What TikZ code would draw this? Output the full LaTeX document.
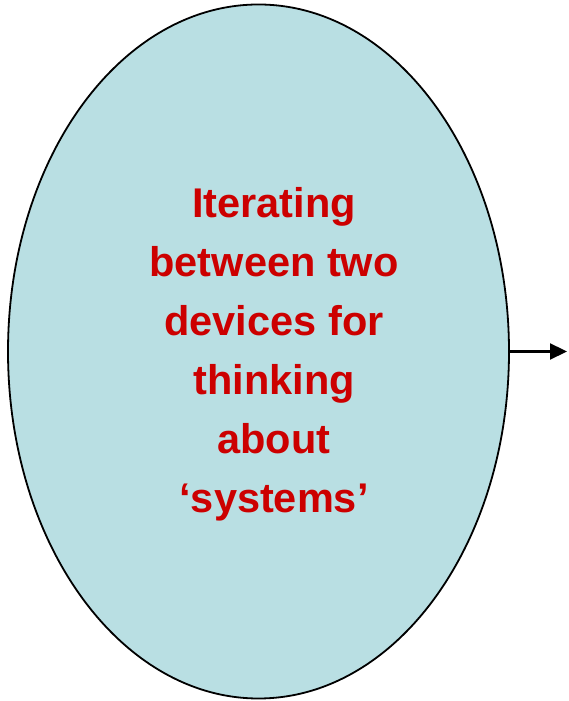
\documentclass[tikz,border=0pt]{standalone}
\usepackage{fontspec}
\setmainfont{Liberation Sans}
\usetikzlibrary{shapes.geometric,arrows.meta}
\definecolor{bubble}{HTML}{B9DFE3}
\definecolor{label}{HTML}{CC0000}
\tikzset{
  bubble/.style={ellipse, draw=black, line width=1.8pt, fill=bubble,
    minimum width=501pt, minimum height=694pt, inner sep=0pt},
  caption/.style={text=label, align=center,
    font=\bfseries\fontsize{41.5pt}{59pt}\selectfont},
  link/.style={line width=2.2pt, -{Triangle[length=17pt,width=16pt]}}
}
\begin{document}
\begin{tikzpicture}[x=1pt,y=1pt]
  \useasboundingbox (0,0) rectangle (568,701);
  \node[bubble] (sys) at (258.5,349.5) {};
  \node[caption] (txt) at (274,347) {Iterating\\between two\\devices for\\thinking\\about\\‘systems’};
  \coordinate (out) at (567,349.5);
  \draw[link] (sys.east) -- (out);
\end{tikzpicture}
\end{document}
